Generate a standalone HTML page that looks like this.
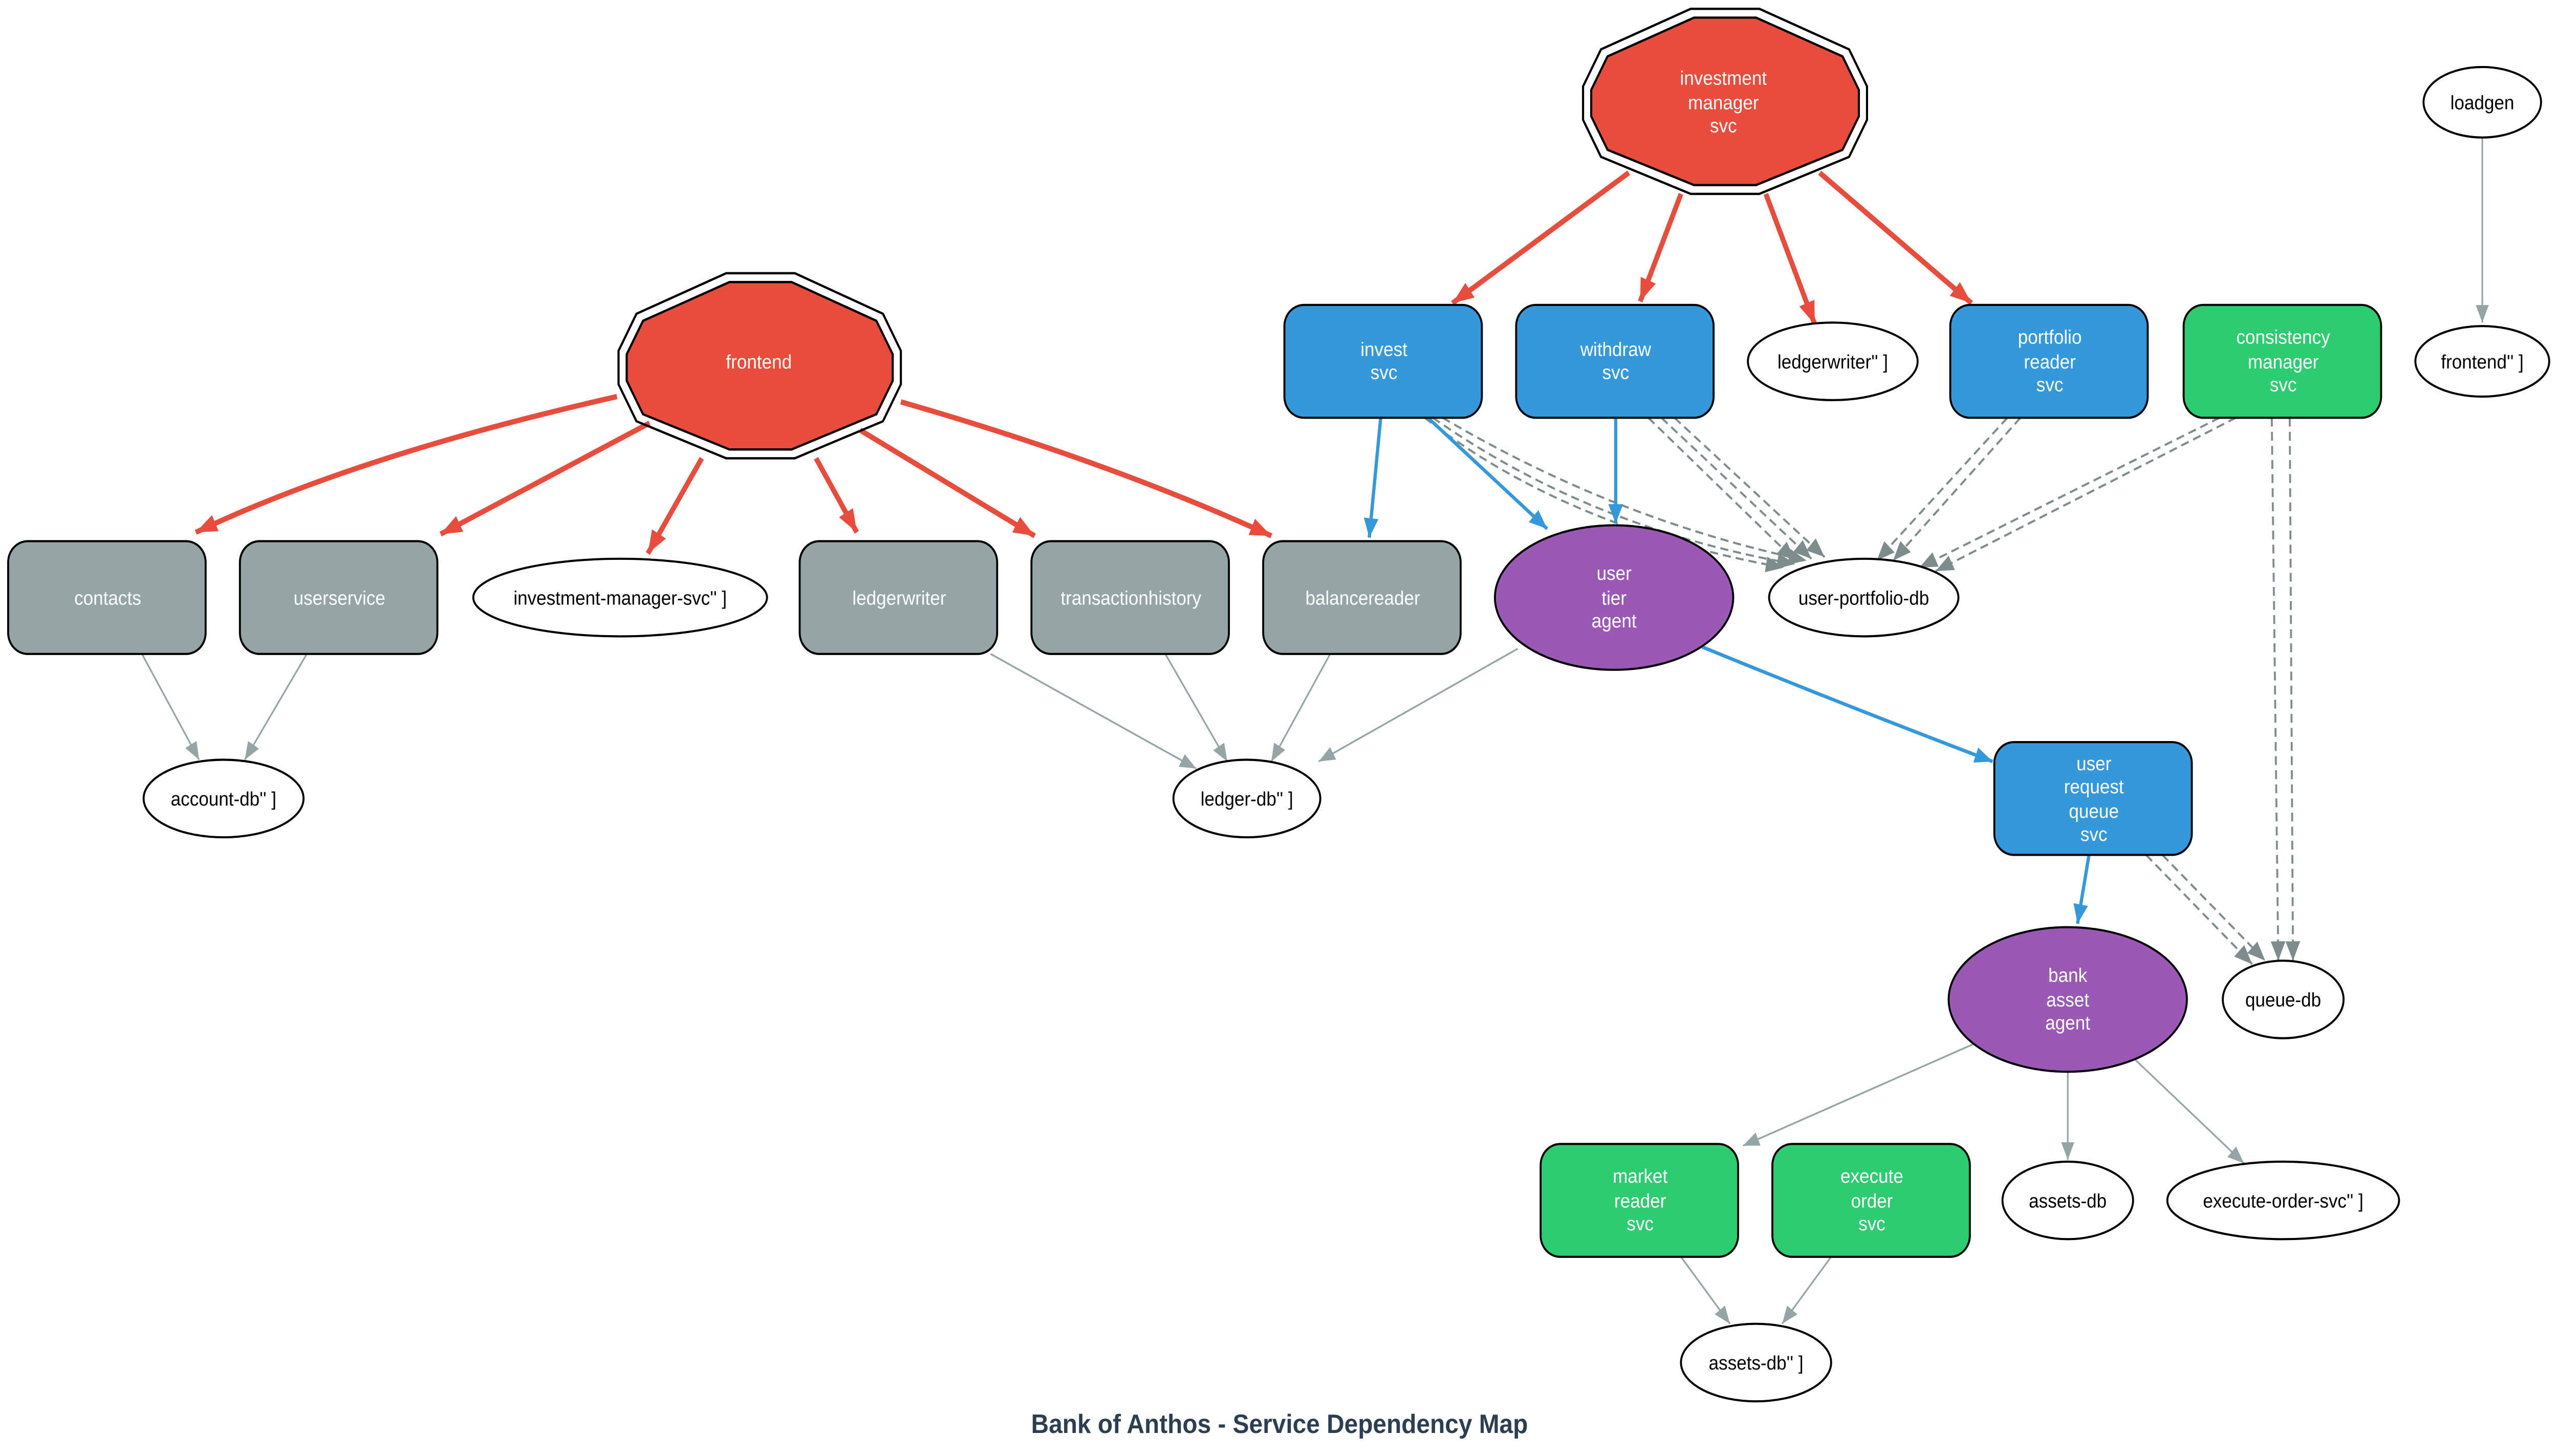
<!DOCTYPE html>
<html><head><meta charset="utf-8"><style>
html,body{margin:0;padding:0;background:#fff;overflow:hidden;width:100%;height:100%;}
svg{display:block;position:absolute;left:0;top:0;width:100vw;height:100vh;}
text{font-family:"Liberation Sans",Arial,sans-serif;}
</style></head><body>
<svg viewBox="0 0 1568 826" preserveAspectRatio="none" xmlns="http://www.w3.org/2000/svg">
<defs>
<marker id="ar" markerUnits="userSpaceOnUse" markerWidth="14" markerHeight="12" refX="13" refY="6" orient="auto"><path d="M0,1 L13,6 L0,11 z" fill="#e74c3c"/></marker>
<marker id="ab" markerUnits="userSpaceOnUse" markerWidth="12" markerHeight="10" refX="11" refY="5" orient="auto"><path d="M0,0.5 L11,5 L0,9.5 z" fill="#3498db"/></marker>
<marker id="ad" markerUnits="userSpaceOnUse" markerWidth="12" markerHeight="10" refX="11" refY="5" orient="auto"><path d="M0,0.5 L11,5 L0,9.5 z" fill="#7f8c8d"/></marker>
<marker id="ag" markerUnits="userSpaceOnUse" markerWidth="11" markerHeight="9" refX="10" refY="4.5" orient="auto"><path d="M0,0.5 L10,4.5 L0,8.5 z" fill="#95a5a6"/></marker>
</defs>

<g stroke="#95a5a6" stroke-width="1" fill="none" marker-end="url(#ag)">
<path d="M87,371 L122,431"/>
<path d="M188,371 L150,431"/>
<path d="M607,371 L733,436"/>
<path d="M714,371 L752,432"/>
<path d="M815,371 L779,432"/>
<path d="M930,368 L808,432"/>
<path d="M1521,78 L1521,183"/>
<path d="M1210,592 L1068,650"/>
<path d="M1267,608 L1267,658"/>
<path d="M1307,600 L1375,660"/>
<path d="M1030,713 L1060,751"/>
<path d="M1122,713 L1092,751"/>
</g>

<g stroke="#7f8c8d" stroke-width="1.2" stroke-dasharray="5,3" fill="none" marker-end="url(#ad)">
<path d="M873,237 Q960,300 1093,322"/>
<path d="M878,237 Q975,300 1100,320"/>
<path d="M884,237 Q990,295 1107,318"/>
<path d="M1010,237 L1100,318"/>
<path d="M1018,237 L1110,317"/>
<path d="M1026,237 L1118,316"/>
<path d="M1230,237 L1150,318"/>
<path d="M1238,237 L1160,318"/>
<path d="M1360,237 L1176,322"/>
<path d="M1370,237 L1186,324"/>
<path d="M1392,237 L1396,545"/>
<path d="M1403,237 L1405,545"/>
<path d="M1315,485 L1380,547"/>
<path d="M1325,485 L1388,545"/>
</g>

<g stroke="#3498db" stroke-width="2" fill="none" marker-end="url(#ab)">
<path d="M846,237 L839,305"/>
<path d="M875,237 L948,300"/>
<path d="M990,237 L990,297"/>
<path d="M1043,367 Q1130,400 1221,432"/>
<path d="M1280,485 L1273,524"/>
</g>

<g stroke="#e74c3c" stroke-width="3" fill="none" marker-end="url(#ar)">
<path d="M378,225 Q220,258 120,302"/>
<path d="M398,240 L270,303"/>
<path d="M430,260 L397,314"/>
<path d="M500,260 L525,302"/>
<path d="M527,244 L634,304"/>
<path d="M552,228 Q680,262 779,304"/>
<path d="M998,98 L890,172"/>
<path d="M1030,110 L1005,171"/>
<path d="M1082,110 L1112,184"/>
<path d="M1115,98 L1208,172"/>
</g>

<g stroke="#000" stroke-width="1.3" stroke-linejoin="round">
<polygon fill="none" points="445,155 487,155 541,178 552,199 552,218 541,239 487,260 445,260 390,239 379,218 379,199 390,178"/>
<polygon fill="#e74c3c" points="447,160 485,160 537,182 547,201 547,216 537,235 485,255 447,255 394,235 384,216 384,201 394,182"/>
<polygon fill="none" points="1036,5 1078,5 1133,28 1144,49 1144,68 1133,89 1078,110 1036,110 981,89 970,68 970,49 981,28"/>
<polygon fill="#e74c3c" points="1038,10 1076,10 1129,32 1139,51 1139,66 1129,85 1076,105 1038,105 985,85 975,66 975,51 985,32"/>
</g>

<g stroke="#000" stroke-width="1.2">
<rect x="787" y="173" width="121" height="64" rx="12" fill="#3498db"/>
<rect x="929" y="173" width="121" height="64" rx="12" fill="#3498db"/>
<rect x="1195" y="173" width="121" height="64" rx="12" fill="#3498db"/>
<rect x="1338" y="173" width="121" height="64" rx="12" fill="#2ecc71"/>
<rect x="5" y="307" width="121" height="64" rx="12" fill="#95a5a6"/>
<rect x="147" y="307" width="121" height="64" rx="12" fill="#95a5a6"/>
<rect x="490" y="307" width="121" height="64" rx="12" fill="#95a5a6"/>
<rect x="632" y="307" width="121" height="64" rx="12" fill="#95a5a6"/>
<rect x="774" y="307" width="121" height="64" rx="12" fill="#95a5a6"/>
<rect x="1222" y="421" width="121" height="64" rx="12" fill="#3498db"/>
<rect x="944" y="649" width="121" height="64" rx="12" fill="#2ecc71"/>
<rect x="1086" y="649" width="121" height="64" rx="12" fill="#2ecc71"/>
</g>

<g stroke="#000" stroke-width="1.2" fill="#fff">
<ellipse cx="1521" cy="58" rx="36" ry="20"/>
<ellipse cx="1521" cy="205" rx="41" ry="20"/>
<ellipse cx="1123" cy="205" rx="52" ry="22"/>
<ellipse cx="380" cy="339" rx="90" ry="22"/>
<ellipse cx="989" cy="339" rx="73" ry="41" fill="#9b59b6"/>
<ellipse cx="1142" cy="339" rx="58" ry="22"/>
<ellipse cx="137" cy="453" rx="49" ry="22"/>
<ellipse cx="764" cy="453" rx="45" ry="22"/>
<ellipse cx="1267" cy="567" rx="73" ry="41" fill="#9b59b6"/>
<ellipse cx="1399" cy="567" rx="37" ry="22"/>
<ellipse cx="1267" cy="681" rx="40" ry="22"/>
<ellipse cx="1399" cy="681" rx="71" ry="22"/>
<ellipse cx="1076" cy="773" rx="46" ry="22"/>
</g>

<g font-size="11" text-anchor="middle" fill="#fff">
<text x="465" y="209">frontend</text>
<text x="1056" y="48">investment</text><text x="1056" y="62">manager</text><text x="1056" y="75">svc</text>
<text x="848" y="202">invest</text><text x="848" y="215">svc</text>
<text x="990" y="202">withdraw</text><text x="990" y="215">svc</text>
<text x="1256" y="195">portfolio</text><text x="1256" y="209">reader</text><text x="1256" y="222">svc</text>
<text x="1399" y="195">consistency</text><text x="1399" y="209">manager</text><text x="1399" y="222">svc</text>
<text x="66" y="343">contacts</text>
<text x="208" y="343">userservice</text>
<text x="551" y="343">ledgerwriter</text>
<text x="693" y="343">transactionhistory</text>
<text x="835" y="343">balancereader</text>
<text x="989" y="329">user</text><text x="989" y="343">tier</text><text x="989" y="356">agent</text>
<text x="1283" y="437">user</text><text x="1283" y="450">request</text><text x="1283" y="464">queue</text><text x="1283" y="477">svc</text>
<text x="1267" y="557">bank</text><text x="1267" y="571">asset</text><text x="1267" y="584">agent</text>
<text x="1005" y="671">market</text><text x="1005" y="685">reader</text><text x="1005" y="698">svc</text>
<text x="1147" y="671">execute</text><text x="1147" y="685">order</text><text x="1147" y="698">svc</text>
</g>
<g font-size="11" text-anchor="middle" fill="#000">
<text x="1521" y="62">loadgen</text>
<text x="1521" y="209">frontend'' ]</text>
<text x="1123" y="209">ledgerwriter'' ]</text>
<text x="380" y="343">investment-manager-svc'' ]</text>
<text x="1142" y="343">user-portfolio-db</text>
<text x="137" y="457">account-db'' ]</text>
<text x="764" y="457">ledger-db'' ]</text>
<text x="1399" y="571">queue-db</text>
<text x="1267" y="685">assets-db</text>
<text x="1399" y="685">execute-order-svc'' ]</text>
<text x="1076" y="777">assets-db'' ]</text>
</g>
<text x="784" y="813" font-size="15" font-weight="bold" text-anchor="middle" fill="#2c3e50">Bank of Anthos - Service Dependency Map</text>
</svg>
</body></html>
